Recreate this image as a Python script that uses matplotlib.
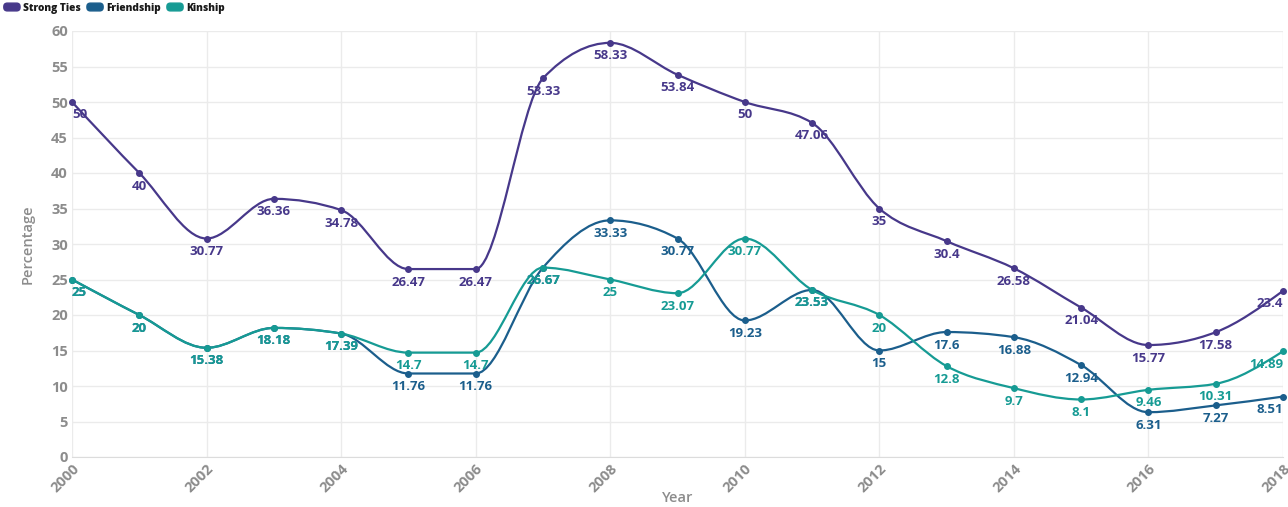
import matplotlib

matplotlib.use("Agg")
import matplotlib.pyplot as plt
import numpy as np
from matplotlib.legend_handler import HandlerPatch
from matplotlib.patches import FancyBboxPatch, Patch, PathPatch
from matplotlib.path import Path

years = list(range(2000, 2019))
strong_ties = [50, 40, 30.77, 36.36, 34.78, 26.47, 26.47, 53.33, 58.33, 53.84,
               50, 47.06, 35, 30.4, 26.58, 21.04, 15.77, 17.58, 23.4]
friendship = [25, 20, 15.38, 18.18, 17.39, 11.76, 11.76, 26.67, 33.33, 30.77,
              19.23, 23.53, 15, 17.6, 16.88, 12.94, 6.31, 7.27, 8.51]
kinship = [25, 20, 15.38, 18.18, 17.39, 14.7, 14.7, 26.67, 25, 23.07,
           30.77, 23.53, 20, 12.8, 9.7, 8.1, 9.46, 10.31, 14.89]

series = [
    ("Strong Ties", strong_ties, "#47388a"),
    ("Friendship", friendship, "#1b5e8c"),
    ("Kinship", kinship, "#169b94"),
]

y_ticks = list(range(0, 61, 5))
x_ticks = list(range(2000, 2019, 2))

plt.rcParams["font.family"] = ["Open Sans", "DejaVu Sans"]

W, H = 1288, 507
fig = plt.figure(figsize=(W / 100, H / 100), dpi=100)
ax = fig.add_axes([72 / W, 1 - 457 / H, (1283 - 72) / W, (457 - 31) / H])
ax.set_xlim(2000, 2018)
ax.set_ylim(0, 60)


def monotone_path(xs, ys):
    # monotone cubic (d3 curveMonotoneX style) as bezier segments
    x = np.asarray(xs, float)
    y = np.asarray(ys, float)
    n = len(x)
    h = np.diff(x)
    s = np.diff(y) / h
    t = np.zeros(n)
    for i in range(1, n - 1):
        p = (s[i - 1] * h[i] + s[i] * h[i - 1]) / (h[i - 1] + h[i])
        t[i] = (np.sign(s[i - 1]) + np.sign(s[i])) * min(abs(s[i - 1]), abs(s[i]), 0.5 * abs(p))
    t[0] = (3 * s[0] - t[1]) / 2
    t[-1] = (3 * s[-1] - t[-2]) / 2
    verts = [(x[0], y[0])]
    codes = [Path.MOVETO]
    for i in range(n - 1):
        dx = h[i] / 3
        verts += [(x[i] + dx, y[i] + dx * t[i]), (x[i + 1] - dx, y[i + 1] - dx * t[i + 1]),
                  (x[i + 1], y[i + 1])]
        codes += [Path.CURVE4] * 3
    return Path(verts, codes)


ax.set_yticks(y_ticks)
ax.set_xticks(x_ticks)
ax.grid(True, color="#ebebeb", linewidth=1.0)
ax.set_axisbelow(True)
for side in ["top", "right", "left"]:
    ax.spines[side].set_visible(False)
ax.spines["bottom"].set_color("#dcdcdc")
ax.tick_params(length=0, colors="#8c8c8c", labelsize=10.5, pad=3)
for lab in ax.get_yticklabels():
    lab.set_fontweight("bold")
for lab in ax.get_xticklabels():
    lab.set_fontweight("bold")
    lab.set_rotation(45)
    lab.set_ha("right")
    lab.set_va("top")
    lab.set_rotation_mode("anchor")

for name, vals, color in series:
    ax.add_patch(PathPatch(monotone_path(years, vals), facecolor="none",
                           edgecolor=color, linewidth=1.6, clip_on=False))
    ax.scatter(years, vals, s=16, color=color, zorder=3, clip_on=False)
    for i, (x, v) in enumerate(zip(years, vals)):
        ha = "center"
        if i == 0:
            ha = "left"
        elif i == len(years) - 1:
            ha = "right"
        ax.annotate(f"{v:g}", (x, v), xytext=(0, -13), textcoords="offset pixels",
                    ha=ha, va="center", fontsize=9.5, fontweight="bold",
                    color=color, zorder=4, annotation_clip=False)

ax.set_ylabel("Percentage", color="#8c8c8c", fontsize=10.5, fontweight="semibold", labelpad=12)
ax.set_xlabel("Year", color="#8c8c8c", fontsize=10.5, fontweight="semibold")
ax.xaxis.set_label_coords(0.5, -(498 - 457) / 426)
ax.xaxis.label.set_va("center")


def rounded_box(legend, orig_handle, xdescent, ydescent, width, height, fontsize):
    return FancyBboxPatch((-xdescent, -ydescent), width, height,
                          boxstyle="round,pad=0,rounding_size=2.5", mutation_aspect=1)


handles = [Patch(facecolor=c, edgecolor=c, label=n) for n, _, c in series]
leg = fig.legend(handles=handles, loc="upper left", bbox_to_anchor=(0.001, 1.0), ncol=3,
                 frameon=False, prop={"size": 7.3, "weight": "heavy"},
                 handlelength=1.6, handleheight=0.8, handletextpad=0.3, columnspacing=0.6,
                 borderaxespad=0, borderpad=0.25,
                 handler_map={Patch: HandlerPatch(patch_func=rounded_box)})
for txt in leg.get_texts():
    txt.set_color("#1a1a1a")

fig.savefig("out.png", dpi=100)
